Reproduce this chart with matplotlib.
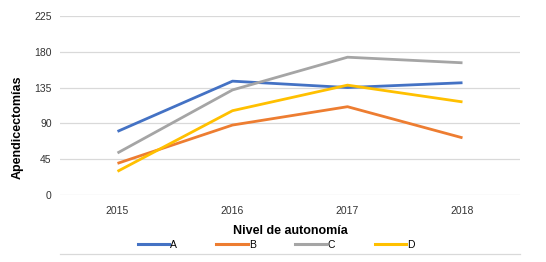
import matplotlib.pyplot as plt
from matplotlib.lines import Line2D

plt.rcParams['font.family'] = ['Liberation Sans', 'DejaVu Sans']

# Data
years = ['2015', '2016', '2017', '2018']
serie_a = [80, 143, 135, 141]
serie_b = [40, 88, 111, 72]
serie_c = [53, 132, 173, 166]
serie_d = [30, 106, 138, 117]
series_names = ['A', 'B', 'C', 'D']
colors = ['#4472C4', '#ED7D31', '#A5A5A5', '#FFC000']
yticks = [0, 45, 90, 135, 180, 225]

fig = plt.figure(figsize=(5.46, 2.62), dpi=100)
ax = fig.add_axes([60 / 546, 1 - 195.3 / 262, 460 / 546, 179.6 / 262])

x = range(len(years))
for vals, name, col in zip([serie_a, serie_b, serie_c, serie_d], series_names, colors):
    ax.plot(x, vals, color=col, lw=2.0, label=name, solid_capstyle='butt')

ax.set_xlim(-0.5, len(years) - 0.5)
ax.set_ylim(0, 225)
ax.set_yticks(yticks)
ax.set_xticks(list(x))
ax.set_xticklabels(years)
ax.tick_params(length=0, labelsize=7.5, colors='#333333')
ax.tick_params(axis='x', pad=8)
ax.tick_params(axis='y', pad=6)
ax.grid(axis='y', color='#D9D9D9', lw=0.9)
ax.set_axisbelow(True)
for s in ax.spines.values():
    s.set_visible(False)

ax.set_ylabel('Apendicectomías', fontsize=9, fontweight='bold')
ax.yaxis.set_label_coords(-0.08, 0.377)
fig.text(290 / 546, 1 - 231 / 262, 'Nivel de autonomía', fontsize=9,
         fontweight='bold', ha='center', va='center')

handles = [Line2D([], [], color=c, lw=2.2) for c in colors]
fig.legend(handles, series_names, loc='center', bbox_to_anchor=(276 / 546, 1 - 245 / 262),
           ncol=4, frameon=False, fontsize=7.5, handlelength=3.0, handletextpad=0.1,
           columnspacing=3.8, borderpad=0)

fig.add_artist(Line2D([60 / 546, 520 / 546], [1 - 254 / 262] * 2, color='#D9D9D9', lw=0.9))

fig.savefig('out.png', dpi=100)
